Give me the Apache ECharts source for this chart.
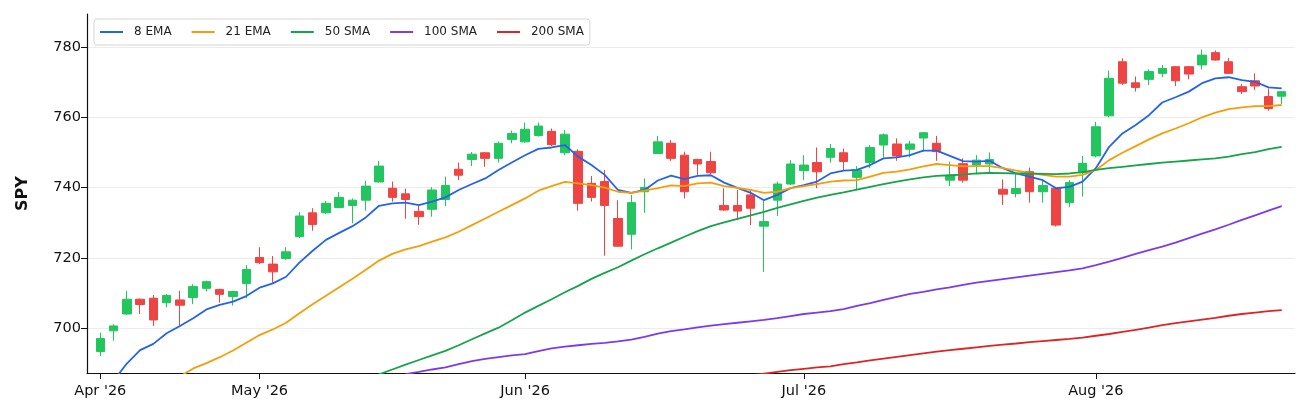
<!DOCTYPE html>
<html>
<head>
<meta charset="utf-8">
<script src="https://cdn.jsdelivr.net/npm/echarts@6/dist/echarts.min.js"></script>
<style>
  html, body { margin: 0; padding: 0; background: #fff; }
  #chart { width: 1308px; height: 415px; }
</style>
</head>
<body>
<div id="chart"></div>
<script>
// SPY daily candles with moving averages (Apr-Aug 2026)
var dates = [
  '2026-04-15','2026-04-16','2026-04-17','2026-04-20','2026-04-21','2026-04-22','2026-04-23','2026-04-24','2026-04-27','2026-04-28','2026-04-29','2026-04-30',
  '2026-05-01','2026-05-04','2026-05-05','2026-05-06','2026-05-07','2026-05-08','2026-05-11','2026-05-12','2026-05-13','2026-05-14','2026-05-15','2026-05-18','2026-05-19','2026-05-20','2026-05-21','2026-05-22','2026-05-26','2026-05-27','2026-05-28','2026-05-29',
  '2026-06-01','2026-06-02','2026-06-03','2026-06-04','2026-06-05','2026-06-08','2026-06-09','2026-06-10','2026-06-11','2026-06-12','2026-06-15','2026-06-16','2026-06-17','2026-06-18','2026-06-22','2026-06-23','2026-06-24','2026-06-25','2026-06-26','2026-06-29','2026-06-30',
  '2026-07-01','2026-07-02','2026-07-06','2026-07-07','2026-07-08','2026-07-09','2026-07-10','2026-07-13','2026-07-14','2026-07-15','2026-07-16','2026-07-17','2026-07-20','2026-07-21','2026-07-22','2026-07-23','2026-07-24','2026-07-27','2026-07-28','2026-07-29','2026-07-30','2026-07-31',
  '2026-08-03','2026-08-04','2026-08-05','2026-08-06','2026-08-07','2026-08-10','2026-08-11','2026-08-12','2026-08-13','2026-08-14','2026-08-17','2026-08-18','2026-08-19','2026-08-20','2026-08-21'
];

var opens = [
  693.3, 699.2, 704.0, 708.2, 708.5, 707.2, 708.0, 708.7, 711.3, 711.0, 709.0, 712.7,
  720.1, 718.2, 719.8, 726.0, 732.8, 732.8, 734.3, 734.9, 736.4, 741.6, 739.8, 738.2, 733.2, 733.8, 736.6, 745.2, 748.0, 749.9, 748.3, 753.7,
  753.0, 754.8, 756.0, 749.9, 750.3, 741.2, 741.7, 731.2, 726.7, 738.8, 749.7, 752.6, 749.2, 748.0, 747.4, 734.9, 734.9, 737.9, 729.0, 736.4, 741.0,
  744.8, 747.1, 748.6, 749.9, 742.9, 747.1, 752.1, 752.4, 750.9, 754.1, 752.6, 742.1, 746.8, 746.4, 746.7, 739.5, 738.3, 744.5, 738.8, 739.8, 735.7, 744.2,
  749.0, 760.4, 775.8, 769.8, 770.8, 772.5, 774.4, 774.4, 774.9, 778.4, 775.8, 768.7, 770.4, 765.9, 766.0
];
var closes = [
  697.0, 700.6, 708.2, 706.7, 702.3, 709.3, 706.5, 711.8, 713.2, 709.6, 710.4, 716.7,
  718.6, 716.0, 721.7, 731.9, 729.5, 735.5, 737.2, 736.4, 740.4, 746.1, 737.2, 736.6, 731.7, 739.3, 740.6, 743.5, 749.5, 748.3, 752.6, 755.4,
  756.6, 757.5, 752.2, 755.2, 735.5, 737.2, 734.9, 723.3, 735.7, 740.0, 753.0, 748.3, 738.8, 746.7, 744.2, 733.6, 733.3, 734.1, 730.3, 741.0, 746.7,
  746.4, 744.5, 751.1, 747.4, 745.0, 751.4, 755.0, 749.0, 752.4, 755.6, 750.2, 743.3, 742.1, 747.8, 748.0, 738.1, 739.7, 738.8, 740.6, 729.3, 741.4, 746.9,
  757.3, 771.1, 769.7, 768.5, 773.0, 773.9, 770.4, 772.3, 777.7, 776.3, 772.5, 767.3, 768.9, 762.5, 767.3
];
var lows = [
  692.0, 696.4, 703.7, 704.0, 700.6, 705.9, 700.6, 706.8, 710.4, 707.2, 706.4, 708.5,
  718.2, 712.9, 719.4, 725.6, 727.7, 732.5, 734.1, 729.8, 733.4, 741.4, 736.0, 731.1, 729.4, 731.7, 734.7, 742.1, 746.1, 745.9, 747.1, 752.6,
  752.8, 754.5, 751.8, 749.2, 733.4, 736.0, 720.6, 723.1, 722.4, 732.8, 749.7, 747.6, 736.9, 743.6, 743.8, 733.4, 730.7, 729.3, 716.0, 731.9, 740.7,
  742.1, 739.8, 747.1, 744.8, 739.5, 745.5, 748.6, 747.6, 748.6, 750.2, 747.6, 740.4, 741.4, 743.8, 744.2, 735.0, 737.2, 735.7, 735.7, 728.9, 734.4, 737.4,
  748.6, 760.0, 769.2, 767.3, 769.2, 771.4, 768.9, 770.8, 773.6, 776.1, 772.3, 766.6, 767.8, 761.9, 763.8
];
var highs = [
  698.7, 701.1, 710.6, 708.4, 709.4, 709.7, 710.6, 712.5, 713.5, 711.2, 710.6, 717.9,
  723.0, 720.5, 723.0, 733.0, 734.1, 736.2, 738.7, 736.9, 741.9, 747.6, 741.7, 739.7, 734.9, 740.1, 743.1, 747.1, 750.1, 750.1, 753.1, 756.2,
  758.5, 758.5, 756.8, 756.4, 750.9, 743.3, 745.0, 736.4, 737.9, 742.6, 754.7, 753.5, 750.2, 748.2, 750.2, 739.8, 739.3, 739.3, 736.2, 741.7, 747.8,
  749.2, 751.4, 752.4, 751.1, 746.1, 752.1, 755.4, 754.0, 753.3, 755.8, 754.7, 747.4, 748.3, 749.2, 750.0, 742.3, 743.8, 745.7, 742.1, 740.2, 742.1, 749.0,
  758.7, 773.3, 776.8, 771.6, 773.6, 774.9, 774.6, 774.6, 779.3, 779.0, 776.8, 769.5, 772.5, 768.2, 767.5
];

var ema8 = [
  null, 685.0, 689.9, 693.7, 695.5, 698.5, 700.6, 702.8, 705.3, 706.6, 707.5, 709.1,
  711.5, 712.7, 714.6, 718.6, 722.0, 725.1, 727.1, 729.0, 731.5, 734.8, 735.5, 735.7, 735.0, 736.0, 737.2, 739.3, 741.0, 742.6, 745.0, 747.1,
  749.2, 751.0, 751.4, 752.1, 748.8, 746.4, 743.6, 739.3, 738.5, 739.3, 742.0, 743.4, 742.4, 743.3, 743.5, 741.4, 739.9, 738.5, 736.4, 737.9, 739.8,
  740.7, 741.7, 744.0, 744.8, 745.0, 746.4, 748.3, 748.6, 749.2, 750.5, 750.5, 749.0, 747.5, 747.4, 747.6, 745.5, 744.0, 743.1, 742.1, 739.8, 740.2, 741.7,
  745.5, 751.6, 755.4, 757.8, 760.6, 764.2, 765.7, 767.3, 769.7, 771.1, 771.4, 770.6, 770.1, 768.5, 768.2
];
var ema21 = [
  null, null, null, null, null, null, 686.2, 688.5, 690.0, 691.7, 693.6, 695.8,
  698.0, 699.6, 701.5, 704.2, 706.8, 709.2, 711.6, 714.0, 716.6, 719.2, 721.1, 722.4, 723.3, 724.6, 725.8, 727.4, 729.3, 731.2, 733.1, 735.0,
  736.9, 739.1, 740.4, 741.6, 741.2, 740.7, 740.0, 738.8, 738.5, 739.1, 739.8, 740.6, 740.4, 741.2, 741.4, 740.4, 739.9, 739.3, 738.5, 738.8, 739.8,
  740.4, 741.0, 741.7, 742.0, 742.1, 743.1, 744.2, 744.5, 745.2, 746.0, 746.7, 746.4, 746.0, 746.1, 746.1, 745.5, 744.8, 744.2, 743.6, 743.1, 743.1, 743.6,
  745.0, 747.8, 749.9, 751.8, 753.7, 755.4, 756.8, 758.3, 760.0, 761.3, 762.3, 762.8, 763.2, 763.2, 763.5
];
var sma50 = [
  null, null, null, null, null, null, null, null, null, null, null, null,
  null, null, null, null, null, null, null, null, 685.0, 686.8, 688.2, 689.6, 690.9, 692.2, 693.5, 695.1, 696.8, 698.5, 700.1, 702.2,
  704.4, 706.3, 708.2, 710.2, 712.0, 714.0, 715.7, 717.3, 719.2, 721.0, 722.7, 724.3, 726.0, 727.6, 729.0, 730.1, 731.1, 732.1, 733.1, 734.2, 735.2,
  736.2, 737.1, 737.9, 738.6, 739.4, 740.2, 741.0, 741.7, 742.3, 742.9, 743.3, 743.5, 743.7, 744.0, 744.2, 744.1, 744.0, 744.0, 743.9, 743.8, 744.0, 744.4,
  745.0, 745.5, 745.9, 746.3, 746.7, 747.1, 747.4, 747.7, 748.0, 748.3, 748.8, 749.5, 750.1, 750.9, 751.6
];
var sma100 = [
  null, null, null, null, null, null, null, null, null, null, null, null,
  null, null, null, null, null, null, null, null, null, null, null, 686.9, 687.5, 688.2, 688.8, 689.7, 690.6, 691.2, 691.7, 692.2,
  692.6, 693.4, 694.2, 694.7, 695.1, 695.5, 695.8, 696.2, 696.7, 697.5, 698.4, 699.1, 699.6, 700.2, 700.7, 701.1, 701.5, 701.9, 702.3, 702.8, 703.4,
  704.0, 704.4, 704.8, 705.4, 706.3, 707.1, 708.0, 708.9, 709.7, 710.3, 711.0, 711.6, 712.3, 712.9, 713.4, 713.9, 714.4, 714.9, 715.4, 715.9, 716.4, 717.0,
  717.9, 718.9, 720.0, 721.1, 722.2, 723.2, 724.3, 725.6, 726.9, 728.1, 729.4, 730.8, 732.1, 733.4, 734.7
];
var sma200 = [
  null, null, null, null, null, null, null, null, null, null, null, null,
  null, null, null, null, null, null, null, null, null, null, null, null, null, null, null, null, null, null, null, null,
  null, null, null, null, null, null, null, null, null, null, null, null, null, null, null, null, null, 686.5, 687.0, 687.5, 688.0,
  688.4, 688.8, 689.1, 689.7, 690.2, 690.8, 691.3, 691.8, 692.3, 692.8, 693.3, 693.7, 694.1, 694.5, 694.9, 695.3, 695.6, 696.0, 696.3, 696.6, 696.9, 697.3,
  697.8, 698.3, 698.9, 699.5, 700.1, 700.8, 701.4, 701.9, 702.4, 702.9, 703.5, 704.0, 704.4, 704.8, 705.1
];

var yTicks = [700, 720, 740, 760, 780];
var monthNames = ['Jan', 'Feb', 'Mar', 'Apr', 'May', 'Jun', 'Jul', 'Aug', 'Sep', 'Oct', 'Nov', 'Dec'];

var maNames = ['8 EMA', '21 EMA', '50 SMA', '100 SMA', '200 SMA'];
var maColors = ['#2563eb', '#f59e0b', '#16a34a', '#7c3aed', '#dc2626'];
var upColor = '#22c55e';
var downColor = '#ef4444';

// one empty slot on each side so the first/last candle sit half a step from the frame
function pad(a) { return [null].concat(a, [null]); }
var cats = [''].concat(dates, ['']);
var candles = [['-', '-', '-', '-']];
for (var i = 0; i < dates.length; i++) {
  candles.push([opens[i], closes[i], lows[i], highs[i]]);
}
candles.push(['-', '-', '-', '-']);

function isMonthStart(idx) {
  var d = cats[idx];
  if (!d) return false;
  var prev = cats[idx - 1];
  return !prev || prev.slice(0, 7) !== d.slice(0, 7);
}

var chart = echarts.init(document.getElementById('chart'), null, { renderer: 'canvas' });
var font = 'DejaVu Sans';

var series = [{
  type: 'candlestick',
  data: candles,
  barWidth: 9,
  itemStyle: {
    color: upColor, color0: downColor,
    borderColor: upColor, borderColor0: downColor,
    borderWidth: 1
  },
  z: 2
}];
[ema8, ema21, sma50, sma100, sma200].forEach(function (arr, k) {
  series.push({
    name: maNames[k],
    type: 'line',
    data: pad(arr),
    showSymbol: false,
    symbol: 'none',
    clip: true,
    lineStyle: { color: maColors[k], width: 1.8 },
    itemStyle: { color: maColors[k] },
    z: 3
  });
});

chart.setOption({
  animation: false,
  textStyle: { fontFamily: font },
  grid: { left: 87, right: 13, top: 14, bottom: 42 },
  legend: {
    data: maNames,
    left: 94,
    top: 19,
    orient: 'horizontal',
    backgroundColor: '#ffffff',
    borderColor: '#d4d4d4',
    borderWidth: 1,
    borderRadius: 3,
    padding: [7, 6],
    itemGap: 20,
    itemWidth: 23,
    itemHeight: 2,
    icon: 'rect',
    textStyle: { fontFamily: font, fontSize: 12, color: '#222', padding: [0, 0, 0, 6] }
  },
  xAxis: {
    type: 'category',
    data: cats,
    boundaryGap: false,
    axisLine: { onZero: false, lineStyle: { color: '#111', width: 1.2 } },
    axisTick: {
      show: true, length: 6,
      interval: function (idx) { return isMonthStart(idx); },
      lineStyle: { color: '#111', width: 1 }
    },
    axisLabel: {
      interval: function (idx) { return isMonthStart(idx); },
      margin: 11,
      fontSize: 14.5,
      color: '#111',
      fontFamily: font,
      formatter: function (v) {
        if (!v) return '';
        return monthNames[parseInt(v.slice(5, 7), 10) - 1] + " '" + v.slice(2, 4);
      }
    },
    splitLine: { show: false }
  },
  yAxis: {
    type: 'value',
    min: 687.2,
    max: 789.4,
    name: 'SPY',
    nameLocation: 'middle',
    nameRotate: 90,
    nameGap: 56,
    nameTextStyle: { fontFamily: font, fontSize: 16, fontWeight: 'bold', color: '#111' },
    axisLine: { show: true, lineStyle: { color: '#111', width: 1.2 } },
    axisTick: { show: true, length: 6, customValues: yTicks, lineStyle: { color: '#111', width: 1 } },
    axisLabel: { customValues: yTicks, margin: 6, fontSize: 14.5, color: '#111', fontFamily: font },
    splitLine: { show: true, lineStyle: { color: '#ececec', width: 1 } }
  },
  series: series
});
window.addEventListener('resize', function () { chart.resize(); });
</script>
</body>
</html>
